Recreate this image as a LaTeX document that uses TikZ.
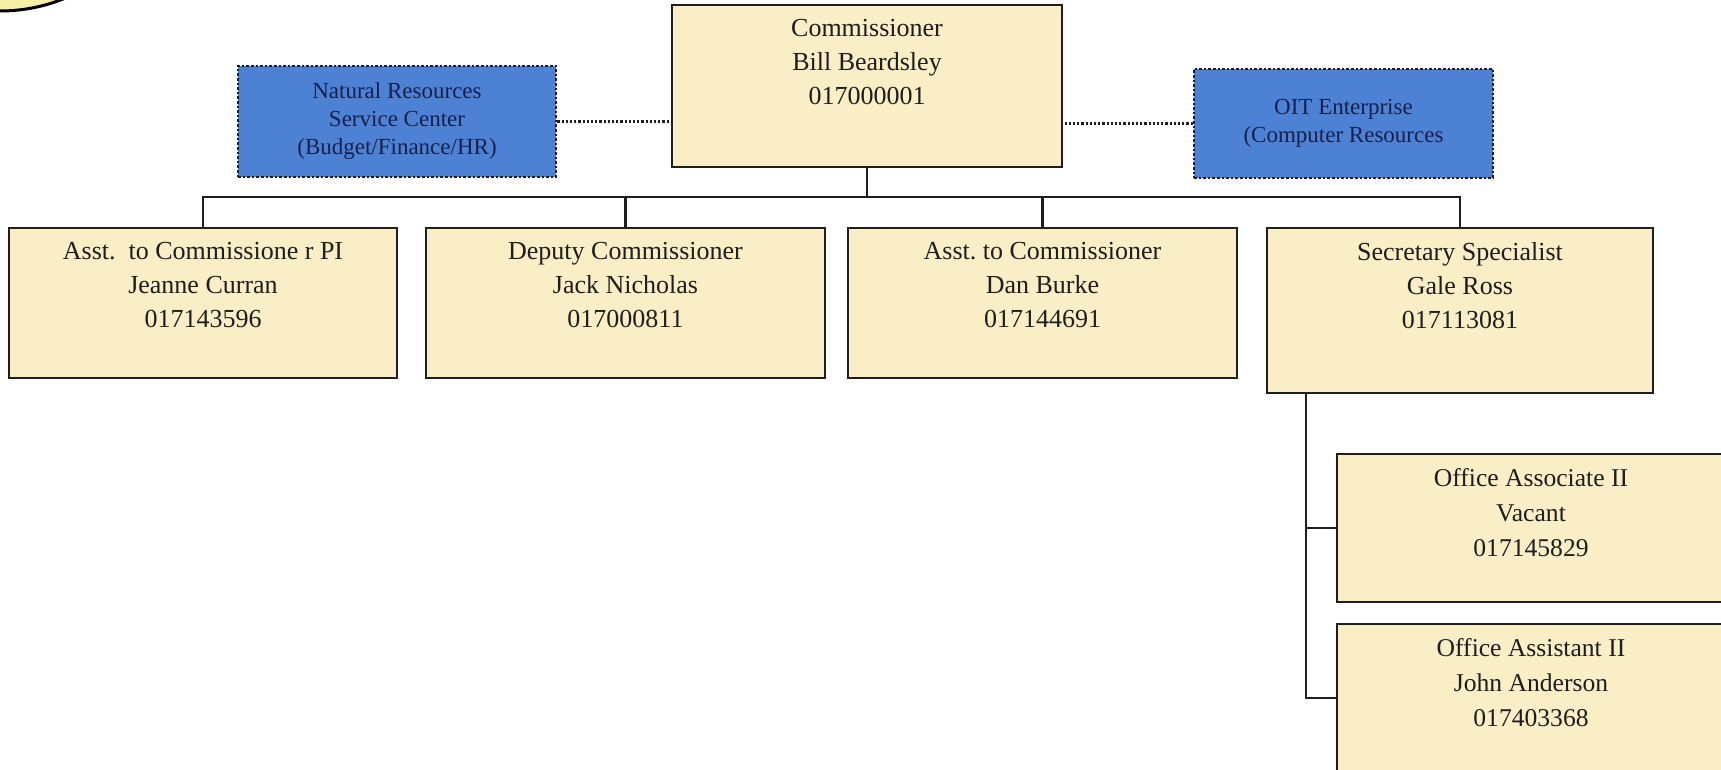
\documentclass[tikz,border=0pt]{standalone}
\usepackage{fontspec}
\setmainfont{Liberation Serif}
\usetikzlibrary{positioning}
\definecolor{cream}{RGB}{250,238,198}
\definecolor{nrblue}{RGB}{76,129,212}
\definecolor{navy}{RGB}{22,32,78}
\definecolor{ink}{RGB}{30,30,30}
\definecolor{balloon}{RGB}{246,240,165}
\begin{document}
\begin{tikzpicture}[x=0.5pt, y=-0.5pt,
  post/.style={draw=ink, line width=1.35pt, fill=cream, inner sep=0pt},
  shared/.style={draw=ink, densely dotted, line width=1.3pt, fill=nrblue, text=navy, align=center, inner sep=0pt, font=\fontsize{11.5}{14}\selectfont},
  title/.style={align=center, inner sep=0pt, text=ink, font=\fontsize{13}{17}\selectfont},
  officetitle/.style={title, font=\fontsize{12.8}{17.5}\selectfont},
  wire/.style={draw=ink, line width=1.1pt},
  link/.style={draw=ink, densely dotted, line width=1.1pt}]
  \useasboundingbox (0,0) rectangle (1721,770);
  \clip (0,0) rectangle (1721,770);
  \fill[white] (0,0) rectangle (1721,770);
  % corner of the balloon, top left
  \draw[line width=1.5pt, fill=balloon] (0,-160) circle [radius=171];

  % top level
  \node[post, minimum width=195pt, minimum height=81pt] (comm) at (867,86) {};
  \node[title, below=7.5pt of comm.north] (commtxt) {Commissioner\\Bill Beardsley\\017000001};
  \node[shared, minimum width=159pt, minimum height=55.5pt] (nr) at (397,121.5) {Natural Resources\\Service Center\\(Budget/Finance/HR)};
  \node[shared, minimum width=149.5pt, minimum height=54.5pt] (oit) at (1343.5,123.5) {OIT Enterprise\\(Computer Resources};
  \draw[link] (nr.east) -- (nr.east -| comm.west);
  \draw[link] (oit.west) -- (oit.west -| comm.east);

  % second row
  \node[post, minimum width=194pt, minimum height=75pt] (pi) at (203,303) {};
  \node[post, minimum width=199.5pt, minimum height=75pt] (dep) at (625.5,303) {};
  \node[post, minimum width=194.5pt, minimum height=75pt] (asst) at (1042.5,303) {};
  \node[post, minimum width=193pt, minimum height=82.5pt] (sec) at (1460,310.5) {};
  \node[title, below=7.5pt of pi.north] (pitxt) {Asst.\ \ to Commissione r PI\\Jeanne Curran\\017143596};
  \node[title, below=7.5pt of dep.north] (deptxt) {Deputy Commissioner\\Jack Nicholas\\017000811};
  \node[title, below=7.5pt of asst.north] (assttxt) {Asst.\ to Commissioner\\Dan Burke\\017144691};
  \node[title, below=7.5pt of sec.north] (sectxt) {Secretary Specialist\\Gale Ross\\017113081};

  \coordinate (bus) at (867,197);
  \draw[wire] (comm) -- (comm |- bus);
  \draw[wire] (pi) |- (bus) -| (sec);
  \draw[wire] (dep) -- (dep |- bus);
  \draw[wire] (asst) -- (asst |- bus);

  % under the secretary
  \node[post, minimum width=194pt, minimum height=74pt] (assoc) at (1531,528) {};
  \node[post, minimum width=194pt, minimum height=74pt] (assist) at (1531,698) {};
  \node[officetitle, below=7.5pt of assoc.north] (assoctxt) {Office Associate II\\Vacant\\017145829};
  \node[officetitle, below=7.5pt of assist.north] (assisttxt) {Office Assistant II\\John Anderson\\017403368};

  \coordinate (spine) at (1306,393);
  \draw[wire] (spine) |- (assist);
  \draw[wire] (spine |- assoc) -- (assoc);
\end{tikzpicture}
\end{document}
